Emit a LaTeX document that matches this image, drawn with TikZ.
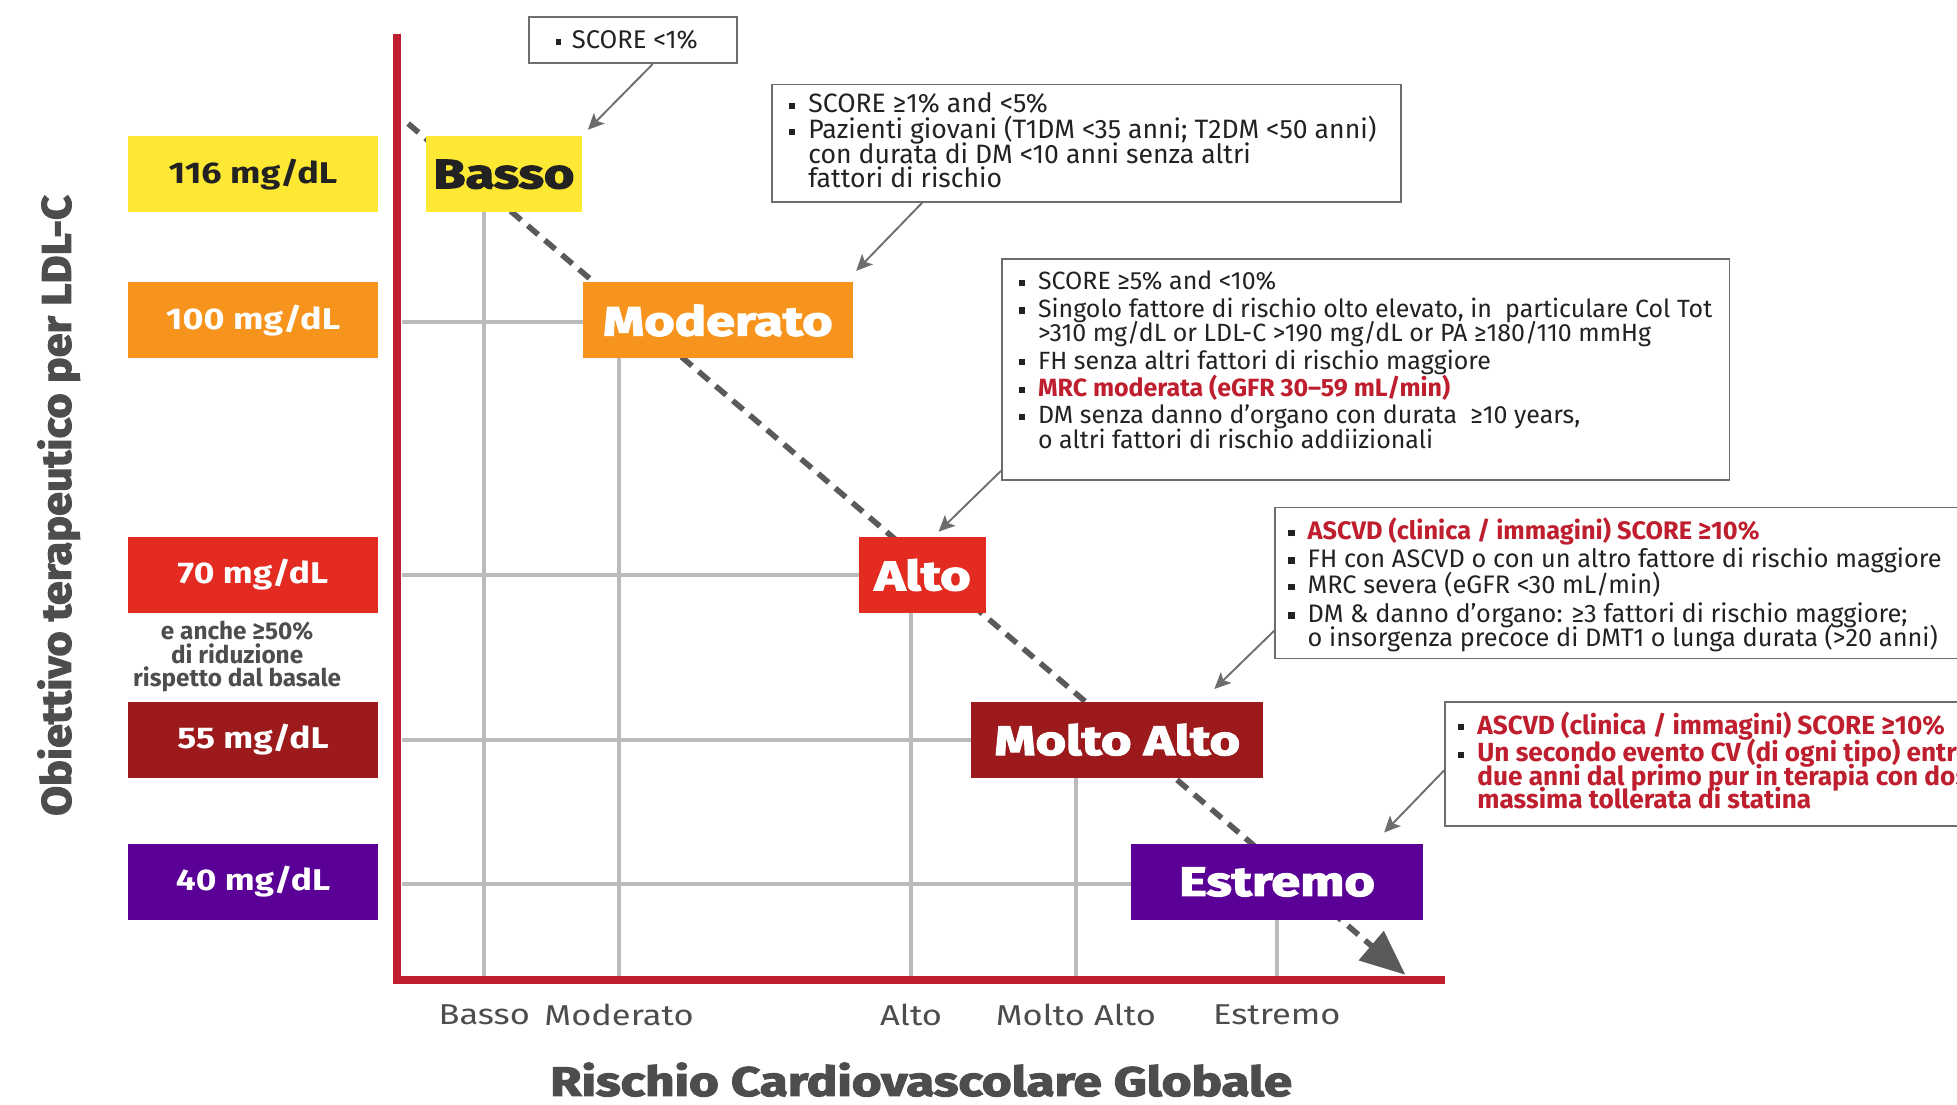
\documentclass[tikz,border=0pt]{standalone}
\usepackage{fontspec}
\usepackage{graphicx}
\setmainfont{Fira Sans}
\newfontfamily\heavy{Fira Sans}[FakeBold=2.6]
\usetikzlibrary{arrows.meta,calc}
\definecolor{cyel}{HTML}{FDE834}
\definecolor{cora}{HTML}{F7941D}
\definecolor{cred}{HTML}{E42B21}
\definecolor{cdred}{HTML}{9C1A1C}
\definecolor{cpur}{HTML}{5A0096}
\definecolor{caxis}{HTML}{BE1E2D}
\definecolor{cgray}{HTML}{4D4D4D}
\definecolor{cgrid}{HTML}{BBBBBB}
\definecolor{cdash}{HTML}{5A5A5A}
\definecolor{cbord}{HTML}{6D6D6D}
\definecolor{ctxt}{HTML}{222222}
\definecolor{cwarn}{HTML}{BE1E2D}
\newcommand\bl{\makebox[15.5pt][l]{\color{ctxt}\rule[3pt]{5pt}{5pt}}}
\newcommand\ind{\hspace*{15.5pt}}
\newcommand\rd[1]{{\color{cwarn}\bfseries #1}}
\newcommand\wider[2]{\scalebox{#1}[1]{#2}}
\newcommand\cfont[1]{\fontsize{#1}{19.5}\selectfont\lineskiplimit=-50pt\lineskip=0pt}
\tikzset{
  lvl/.style={anchor=north west, inner sep=0, minimum width=201pt, minimum height=61pt,
    font=\fontsize{24}{24}\selectfont\bfseries, text=white},
  risk/.style={anchor=north west, inner sep=0, minimum height=61pt,
    font=\heavy\bfseries\fontsize{33}{33}\selectfont, text=white},
  gridline/.style={draw=cgrid, line width=3pt},
  callout/.style={draw=cbord, line width=1.3pt, fill=white, anchor=north west, inner sep=0},
  ctext/.style={anchor=north west, inner sep=0, align=left, font=\cfont{20.5}, text=ctxt},
  pointer/.style={draw=cbord, line width=1.5pt, -{Stealth[length=13pt,width=12pt,inset=3pt]}},
  ticklab/.style={font=\fontsize{23}{23}\selectfont, text=cgray, inner sep=0},
}
\begin{document}
\begin{tikzpicture}[x=1pt,y=-1pt]
\useasboundingbox (0,0) rectangle (1568,885);
\clip (0,0) rectangle (1568,885);
\fill[white] (0,0) rectangle (1568,885);

% axis coordinates
\coordinate (ytop) at (318,27);
\coordinate (orig) at (318,785);
\coordinate (xend) at (1158,785);

% tick labels
\node[ticklab] (tBasso) at (388,813) {\wider{1.2}{Basso}};
\node[ticklab] (tMod) at (496,813) {\wider{1.2}{Moderato}};
\node[ticklab] (tAlto) at (730,813) {\wider{1.2}{Alto}};
\node[ticklab] (tMA) at (862,813) {\wider{1.2}{Molto Alto}};
\node[ticklab] (tEst) at (1023,813) {\wider{1.2}{Estremo}};

% level boxes
\node[lvl, fill=cyel, text=ctxt] (l116) at (102,109) {\wider{1.2}{116 mg/dL}};
\node[lvl, fill=cora] (l100) at (102,226) {\wider{1.2}{100 mg/dL}};
\node[lvl, fill=cred] (l70) at (102,430) {\wider{1.18}{70 mg/dL}};
\node[lvl, fill=cdred] (l55) at (102,562) {\wider{1.18}{55 mg/dL}};
\node[lvl, fill=cpur] (l40) at (102,676) {\wider{1.18}{40 mg/dL}};

\node[align=center, text=cgray, font=\fontsize{19.5}{18.5}\selectfont\bfseries, inner sep=0] (note) at (190,526)
  {e anche ≥50\%\\di riduzione\\rispetto dal basale};

% risk boxes (positions)
\coordinate (pBasso) at (341,109);
\coordinate (pMod) at (467,226);
\coordinate (pAlto) at (688,430);
\coordinate (pMA) at (778,562);
\coordinate (pEst) at (906,676);

% grid lines
\draw[gridline] (388,169) -- (tBasso.north |- orig);
\draw[gridline] (496,287) -- (tMod.north |- orig);
\draw[gridline] (730,491) -- (tAlto.north |- orig);
\draw[gridline] (862,622) -- (tMA.north |- orig);
\draw[gridline] (1023,736) -- (tEst.north |- orig);
\draw[gridline] (322,258) -- (pMod |- 0,258);
\draw[gridline] (322,461) -- (pAlto |- 0,461);
\draw[gridline] (322,593) -- (pMA |- 0,593);
\draw[gridline] (322,708) -- (pEst |- 0,708);

% dashed trend line
\coordinate (dstart) at (327,99);
\coordinate (dend) at (1126,781);
\draw[cdash, line width=4.5pt, dash pattern=on 11pt off 7pt,
  -{Triangle[length=36pt,width=30pt]}] (dstart) -- (dend);

% risk boxes
\node[risk, fill=cyel, text=ctxt, minimum width=125pt] (bBasso) at (pBasso) {\wider{1.27}{Basso}};
\node[risk, fill=cora, minimum width=216pt] (bMod) at (pMod) {\wider{1.27}{Moderato}};
\node[risk, fill=cred, minimum width=102pt] (bAlto) at (pAlto) {\wider{1.27}{Alto}};
\node[risk, fill=cdred, minimum width=234pt] (bMA) at (pMA) {\wider{1.27}{Molto Alto}};
\node[risk, fill=cpur, minimum width=234pt] (bEst) at (pEst) {\wider{1.27}{Estremo}};

% axes
\draw[caxis, line width=6pt] (ytop) -- (orig) -- (xend);

% axis titles
\node[rotate=90, text=cgray, font=\heavy\bfseries\fontsize{33}{33}\selectfont] (ytitle) at (47,405)
  {\wider{1.05}{Obiettivo terapeutico per LDL-C}};
\node[text=cgray, font=\heavy\bfseries\fontsize{33}{33}\selectfont] (xtitle) at (738,865)
  {\wider{1.24}{Rischio Cardiovascolare Globale}};

% callouts
\node[callout, minimum width=167pt, minimum height=37pt] (c1) at (423,13) {};
\node[ctext, anchor=base west, font=\cfont{20.5}] (c1t) at (445,39)
  {\makebox[13pt][l]{\rule[3pt]{4.5pt}{4.5pt}}SCORE <1\%};

\node[callout, minimum width=504pt, minimum height=94pt] (c2) at (618,67) {};
\node[ctext, font=\cfont{21.3}] (c2t) at (632,74)
  {\bl SCORE ≥1\% and <5\%\\[1.5pt]
   \bl Pazienti giovani (T1DM <35 anni; T2DM <50 anni)\\
   \ind con durata di DM <10 anni senza altri\\
   \ind fattori di rischio};

\node[callout, minimum width=583pt, minimum height=177pt] (c3) at (802,207) {};
\node[ctext, font=\cfont{20}] (c3t) at (816,217)
  {\bl SCORE ≥5\% and <10\%\\[2.5pt]
   \bl Singolo fattore di rischio olto elevato, in\ \ particulare Col Tot\\
   \ind >310 mg/dL or LDL-C >190 mg/dL or PA ≥180/110 mmHg\\[2.5pt]
   \bl FH senza altri fattori di rischio maggiore\\[2.5pt]
   \bl \rd{MRC moderata (eGFR 30–59 mL/min)}\\[2.5pt]
   \bl DM senza danno d’organo con durata\ \ ≥10 years,\\
   \ind o altri fattori di rischio addiizionali};

\node[callout, minimum width=600pt, minimum height=121pt] (c4) at (1021,406) {};
\node[ctext, font=\cfont{20.3}] (c4t) at (1032,415)
  {\bl \rd{ASCVD (clinica / immagini) SCORE ≥10\%}\\[2.5pt]
   \bl FH con ASCVD o con un altro fattore di rischio maggiore\\[1.5pt]
   \bl MRC severa (eGFR <30 mL/min)\\[3.5pt]
   \bl DM \& danno d’organo: ≥3 fattori di rischio maggiore;\\
   \ind o insorgenza precoce di DMT1 o lunga durata (>20 anni)};

\node[callout, minimum width=500pt, minimum height=99pt] (c5) at (1157,562) {};
\node[ctext, font=\cfont{21}] (c5t) at (1168,570)
  {\bl \rd{ASCVD (clinica / immagini) SCORE ≥10\%}\\[2.5pt]
   \bl \rd{Un secondo evento CV (di ogni tipo) entro}\\
   \ind \rd{due anni dal primo pur in terapia con dose}\\[-1.5pt]
   \ind \rd{massima tollerata di statina}};

% pointers
\coordinate (p1) at (471,104);
\coordinate (p2) at (686,217);
\coordinate (p3) at (752,426);
\coordinate (p4) at (973,552);
\coordinate (p5) at (1109,667);
\draw[pointer] ([xshift=100pt]c1.south west) -- (p1);
\draw[pointer] ([xshift=121pt]c2.south west) -- (p2);
\draw[pointer] ([yshift=8pt]c3.south west) -- (p3);
\draw[pointer] ([yshift=23pt]c4.south west) -- (p4);
\draw[pointer] ([yshift=45pt]c5.south west) -- (p5);
\end{tikzpicture}
\end{document}
